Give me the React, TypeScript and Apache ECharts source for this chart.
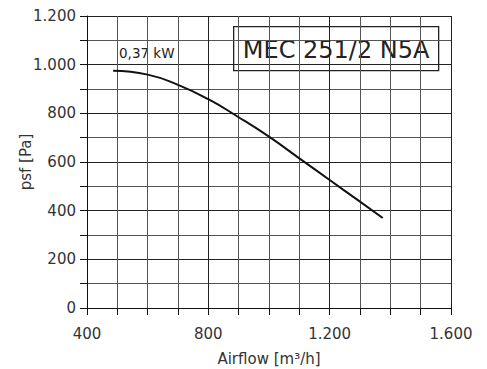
import React, { useEffect, useRef } from "react";
import * as echarts from "echarts";

const airflow = [486, 600, 700, 800, 900, 1000, 1100, 1200, 1300, 1375];
const pressure = [975, 959, 917, 858, 784, 704, 615, 526, 437, 370];
const modelName = "MEC 251/2 N5A";
const powerLabel = "0,37 kW";
const xName = "Airflow [m³/h]";
const yName = "psf [Pa]";

const FONT = "'DejaVu Sans', sans-serif";

function fmt(v: number): string {
  if (v >= 1000) {
    return Math.floor(v / 1000) + "." + String(v % 1000).padStart(3, "0");
  }
  return String(v);
}

export default function App() {
  const ref = useRef<HTMLDivElement>(null);
  useEffect(() => {
    if (!ref.current) return;
    const chart = echarts.init(ref.current, null, { renderer: "svg" });
    const data = airflow.map((x, i) => [x, pressure[i]]);
    chart.setOption({
      animation: false,
      backgroundColor: "#fff",
      textStyle: { fontFamily: FONT },
      grid: { left: 87, right: 36, top: 16, bottom: 61, outerBoundsMode: "none", containLabel: false },
      xAxis: {
        type: "value",
        min: 400,
        max: 1600,
        interval: 400,
        name: xName,
        nameLocation: "middle",
        nameGap: 43,
        nameMoveOverlap: false,
        nameTextStyle: { fontSize: 15, color: "#333", fontFamily: FONT },
        axisLine: { show: true, lineStyle: { color: "#111", width: 1 } },
        axisTick: { show: true, length: 7, lineStyle: { color: "#111" } },
        minorTick: { show: true, splitNumber: 4, length: 7, lineStyle: { color: "#111" } },
        splitLine: { show: true, lineStyle: { color: "#222", width: 1 } },
        minorSplitLine: { show: true, lineStyle: { color: "#555", width: 1 } },
        axisLabel: { formatter: fmt, fontSize: 15, color: "#333", margin: 18, fontFamily: FONT },
      },
      yAxis: {
        type: "value",
        min: 0,
        max: 1200,
        interval: 200,
        name: yName,
        nameLocation: "middle",
        nameGap: 54,
        nameMoveOverlap: false,
        nameTextStyle: { fontSize: 15, color: "#333", fontFamily: FONT },
        axisLine: { show: true, lineStyle: { color: "#111", width: 1 } },
        axisTick: { show: true, length: 7, lineStyle: { color: "#111" } },
        minorTick: { show: true, splitNumber: 2, length: 7, lineStyle: { color: "#111" } },
        splitLine: { show: true, lineStyle: { color: "#222", width: 1 } },
        minorSplitLine: { show: true, lineStyle: { color: "#555", width: 1 } },
        axisLabel: { formatter: fmt, fontSize: 15, color: "#333", margin: 11, fontFamily: FONT },
      },
      series: [
        {
          type: "line",
          data,
          smooth: 0.5,
          showSymbol: false,
          lineStyle: { color: "#111", width: 2 },
          z: 5,
        },
      ],
      graphic: [
        {
          type: "group",
          left: 233,
          top: 26,
          z: 10,
          children: [
            {
              type: "rect",
              shape: { x: 0, y: 0, width: 205, height: 44 },
              style: { fill: "#fff", stroke: "#222", lineWidth: 1.3 },
            },
            {
              type: "text",
              x: 102.5,
              y: 23,
              style: {
                text: modelName,
                fontSize: 24,
                fontFamily: FONT,
                fill: "#222",
                align: "center",
                verticalAlign: "middle",
              },
            },
          ],
        },
        {
          type: "group",
          left: 117,
          top: 41,
          z: 10,
          children: [
            {
              type: "rect",
              shape: { x: 0, y: 0, width: 60, height: 22 },
              style: { fill: "#fff", stroke: "none" },
            },
            {
              type: "text",
              x: 2,
              y: 12,
              style: {
                text: powerLabel,
                fontSize: 13.5,
                fontFamily: FONT,
                fill: "#222",
                verticalAlign: "middle",
              },
            },
          ],
        },
      ],
    });
    return () => chart.dispose();
  }, []);
  return <div ref={ref} style={{ width: 487, height: 369, marginLeft: -8, marginTop: -8 }} />;
}
